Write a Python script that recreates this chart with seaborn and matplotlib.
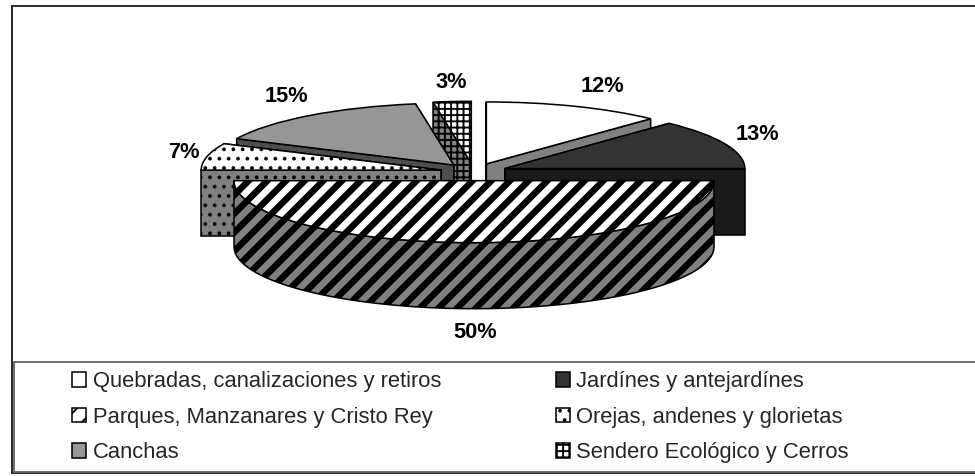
import numpy as np
import matplotlib
matplotlib.use("Agg")
import matplotlib.pyplot as plt
from matplotlib.patches import Patch, Polygon, Rectangle
import seaborn as sns

# data
categories = ["Quebradas, canalizaciones y retiros", "Jardínes y antejardínes",
              "Parques, Manzanares y Cristo Rey", "Orejas, andenes y glorietas",
              "Canchas", "Sendero Ecológico y Cerros"]
values = [12, 13, 50, 7, 15.45, 2.55]

# styles per slice
top_colors = ["#ffffff", "#333333", "#ffffff", "#ffffff", "#969696", "#ffffff"]
side_colors = ["#808080", "#1a1a1a", "#808080", "#808080", "#4d4d4d", "#808080"]
hatches = [None, None, "//", "..", None, "+++"]
draw_order = [5, 4, 3, 0, 1, 2]
legend_order = [0, 2, 4, 1, 3, 5]  # legend fills by column, the chart reads by row

# layout, in pixels of the 975x476 picture
W, H, DPI = 975, 476, 112
CX, CY, RX, RY, DEPTH = 474, 172, 240, 62, 66
label_px = [(602, 86), (757, 134), (475, 333), (184, 153), (286, 96), (451, 82)]

sns.set_theme(style="white")
plt.rcParams["font.family"] = ["Liberation Sans", "DejaVu Sans"]
plt.rcParams["hatch.linewidth"] = 1.2


def xd(px):
    return (px - CX) / RX


def yd(py):
    return (CY - py) / RY


fig = plt.figure(figsize=(W / DPI, H / DPI), dpi=DPI)
ax = fig.add_axes([11.5 / W, 1 - 472.5 / H, (990 - 11.5) / W, (472.5 - 6) / H])

wedges, _ = ax.pie(values, explode=[0.14] * 6, startangle=90, counterclock=False,
                   colors=top_colors, hatch=hatches,
                   wedgeprops={"edgecolor": "black", "linewidth": 1.0})
ax.set_aspect("auto")
ax.set_xlim(xd(11.5), xd(990))
ax.set_ylim(yd(472.5), yd(6))
ax.set_frame_on(True)
for side in ax.spines.values():
    side.set_linewidth(1.2)
    side.set_color("#222222")

drop = DEPTH / RY
for z, i in enumerate(draw_order):
    w = wedges[i]
    cx, cy = w.center
    t = np.radians(np.linspace(w.theta1, w.theta2, 80))
    x, y = cx + np.cos(t), cy + np.sin(t)
    if np.sin(t).mean() < 0:
        # slice faces the viewer, only the outer rim shows
        faces = [list(zip(x, y)) + list(zip(x[::-1], y[::-1] - drop))]
    else:
        # slice at the back, the cut faces show, the lower edge goes last
        edges = sorted([(x[0], y[0]), (x[-1], y[-1])], key=lambda e: -e[1])
        faces = [[(cx, cy), e, (e[0], e[1] - drop), (cx, cy - drop)] for e in edges]
    for face in faces:
        p = Polygon(face, closed=True, facecolor=side_colors[i], edgecolor="black",
                    linewidth=1.0, hatch=hatches[i], zorder=10 + 2 * z)
        if i == 2:
            p.set_hatch_linewidth(4.2)
        ax.add_patch(p)
    w.set_zorder(11 + 2 * z)
    if i == 2:
        w.set_hatch_linewidth(4.2)

for v, (lx, ly) in zip(values, label_px):
    ax.text(xd(lx), yd(ly), f"{round(v)}%", ha="center", va="center",
            fontsize=14, fontweight="bold", color="black", zorder=40)

# legend box
ax.add_patch(Rectangle((xd(13.5), yd(472)), xd(990) - xd(13.5), yd(362) - yd(472),
                       facecolor="white", edgecolor="#666666", linewidth=1.2, zorder=30))

handles = []
for i in legend_order:
    h = Patch(facecolor=top_colors[i], edgecolor="black", linewidth=1.0, hatch=hatches[i])
    if i == 2:
        h.set_hatch_linewidth(4.2)
    handles.append(h)
leg = ax.legend(handles, [categories[i] for i in legend_order], ncol=2, frameon=False,
                fontsize=14.15, loc="upper left", bbox_to_anchor=(72 / W, 1 - 371 / H),
                bbox_transform=fig.transFigure, borderaxespad=0, borderpad=0,
                handlelength=0.64, handleheight=0.64, handletextpad=0.3,
                columnspacing=5.2, labelspacing=0.66)
leg.set_zorder(35)

fig.savefig("out.png", dpi=DPI)
